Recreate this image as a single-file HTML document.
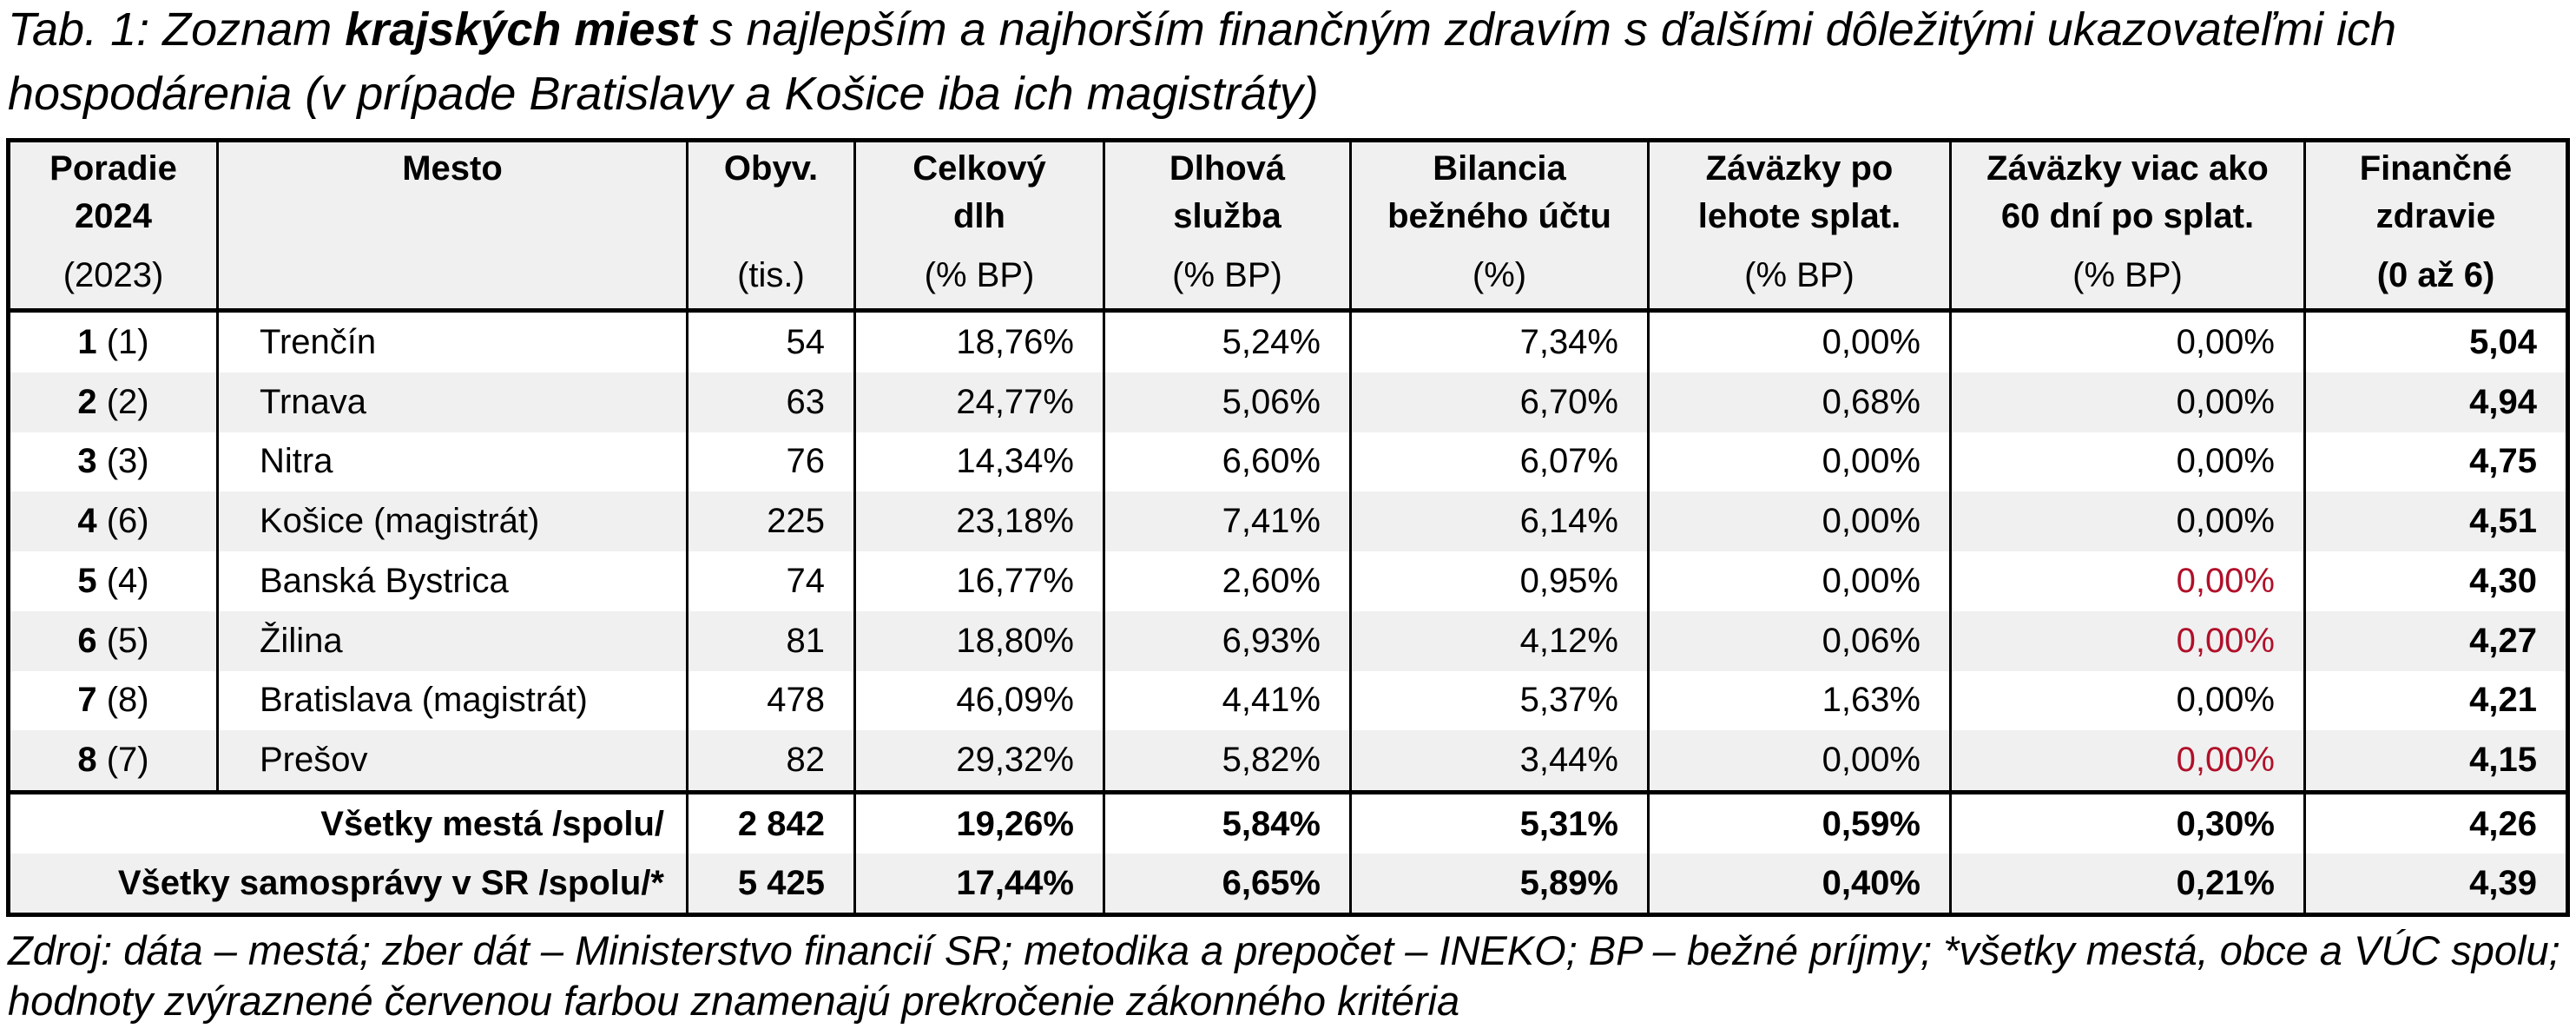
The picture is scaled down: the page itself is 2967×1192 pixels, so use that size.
<!DOCTYPE html>
<html><head><meta charset="utf-8">
<style>
html,body{margin:0;padding:0;background:#fff;width:2967px;height:1192px;overflow:hidden}
body{position:relative;font-family:"Liberation Sans Narrow","Liberation Sans",sans-serif;color:#000}
.title{position:absolute;left:9px;top:-3px;font-family:"Liberation Sans",sans-serif;font-style:italic;font-size:54px;line-height:74px;white-space:nowrap}
.foot{position:absolute;left:9px;top:1066px;font-family:"Liberation Sans",sans-serif;font-style:italic;font-size:47px;line-height:58px;white-space:nowrap}
table{position:absolute;left:7px;top:159px;border-collapse:collapse;table-layout:fixed;border:5px solid #000;font-size:40px}
td{border-left:3px solid #000;border-right:3px solid #000;padding:0 33px 0 0;text-align:right;white-space:nowrap;height:68.75px}
th{border-left:3px solid #000;border-right:3px solid #000;background:#f0f0f0;vertical-align:top;padding:3px 0 0 0;font-weight:bold;line-height:55px;height:188px;border-bottom:5px solid #000;white-space:nowrap}
th .u{font-weight:normal;margin-top:13px}
th .ub{margin-top:13px}
tr.g td{background:#f0f0f0}
td.r{text-align:center;padding:0}
td.n{text-align:left;padding-left:47px}
tr.last td{border-bottom:5px solid #000}
tr.s td{font-weight:bold;height:68px}
td.sl{text-align:right;padding-right:25px}
.red{color:#b0102a}
b{font-weight:bold}
</style></head><body>
<div class="title">Tab. 1: Zoznam <b>krajských miest</b> s najlepším a najhorším finančným zdravím s ďalšími dôležitými ukazovateľmi ich<br>hospodárenia (v prípade Bratislavy a Košice iba ich magistráty)</div>
<table>
<colgroup><col style="width:241px"><col style="width:541px"><col style="width:193px"><col style="width:287px"><col style="width:284px"><col style="width:343px"><col style="width:348px"><col style="width:408px"><col style="width:303px"></colgroup>
<tr>
<th><div>Poradie</div><div>2024</div><div class="u">(2023)</div></th>
<th><div>Mesto</div></th>
<th><div>Obyv.</div><div>&nbsp;</div><div class="u">(tis.)</div></th>
<th><div>Celkový</div><div>dlh</div><div class="u">(% BP)</div></th>
<th><div>Dlhová</div><div>služba</div><div class="u">(% BP)</div></th>
<th><div>Bilancia</div><div>bežného účtu</div><div class="u">(%)</div></th>
<th><div>Záväzky po</div><div>lehote splat.</div><div class="u">(% BP)</div></th>
<th><div>Záväzky viac ako</div><div>60 dní po splat.</div><div class="u">(% BP)</div></th>
<th><div>Finančné</div><div>zdravie</div><div class="ub">(0 až 6)</div></th>
</tr>
<tr><td class="r"><b>1</b> (1)</td><td class="n">Trenčín</td><td>54</td><td>18,76%</td><td>5,24%</td><td>7,34%</td><td>0,00%</td><td>0,00%</td><td><b>5,04</b></td></tr>
<tr class="g"><td class="r"><b>2</b> (2)</td><td class="n">Trnava</td><td>63</td><td>24,77%</td><td>5,06%</td><td>6,70%</td><td>0,68%</td><td>0,00%</td><td><b>4,94</b></td></tr>
<tr><td class="r"><b>3</b> (3)</td><td class="n">Nitra</td><td>76</td><td>14,34%</td><td>6,60%</td><td>6,07%</td><td>0,00%</td><td>0,00%</td><td><b>4,75</b></td></tr>
<tr class="g"><td class="r"><b>4</b> (6)</td><td class="n">Košice (magistrát)</td><td>225</td><td>23,18%</td><td>7,41%</td><td>6,14%</td><td>0,00%</td><td>0,00%</td><td><b>4,51</b></td></tr>
<tr><td class="r"><b>5</b> (4)</td><td class="n">Banská Bystrica</td><td>74</td><td>16,77%</td><td>2,60%</td><td>0,95%</td><td>0,00%</td><td class="red">0,00%</td><td><b>4,30</b></td></tr>
<tr class="g"><td class="r"><b>6</b> (5)</td><td class="n">Žilina</td><td>81</td><td>18,80%</td><td>6,93%</td><td>4,12%</td><td>0,06%</td><td class="red">0,00%</td><td><b>4,27</b></td></tr>
<tr><td class="r"><b>7</b> (8)</td><td class="n">Bratislava (magistrát)</td><td>478</td><td>46,09%</td><td>4,41%</td><td>5,37%</td><td>1,63%</td><td>0,00%</td><td><b>4,21</b></td></tr>
<tr class="g last"><td class="r"><b>8</b> (7)</td><td class="n">Prešov</td><td>82</td><td>29,32%</td><td>5,82%</td><td>3,44%</td><td>0,00%</td><td class="red">0,00%</td><td><b>4,15</b></td></tr>
<tr class="s"><td colspan="2" class="sl">Všetky mestá /spolu/</td><td>2 842</td><td>19,26%</td><td>5,84%</td><td>5,31%</td><td>0,59%</td><td>0,30%</td><td>4,26</td></tr>
<tr class="s g"><td colspan="2" class="sl">Všetky samosprávy v SR /spolu/*</td><td>5 425</td><td>17,44%</td><td>6,65%</td><td>5,89%</td><td>0,40%</td><td>0,21%</td><td>4,39</td></tr>
</table>
<div class="foot">Zdroj: dáta – mestá; zber dát – Ministerstvo financií SR; metodika a prepočet – INEKO; BP – bežné príjmy; *všetky mestá, obce a VÚC spolu;<br>hodnoty zvýraznené červenou farbou znamenajú prekročenie zákonného kritéria</div>
</body></html>
